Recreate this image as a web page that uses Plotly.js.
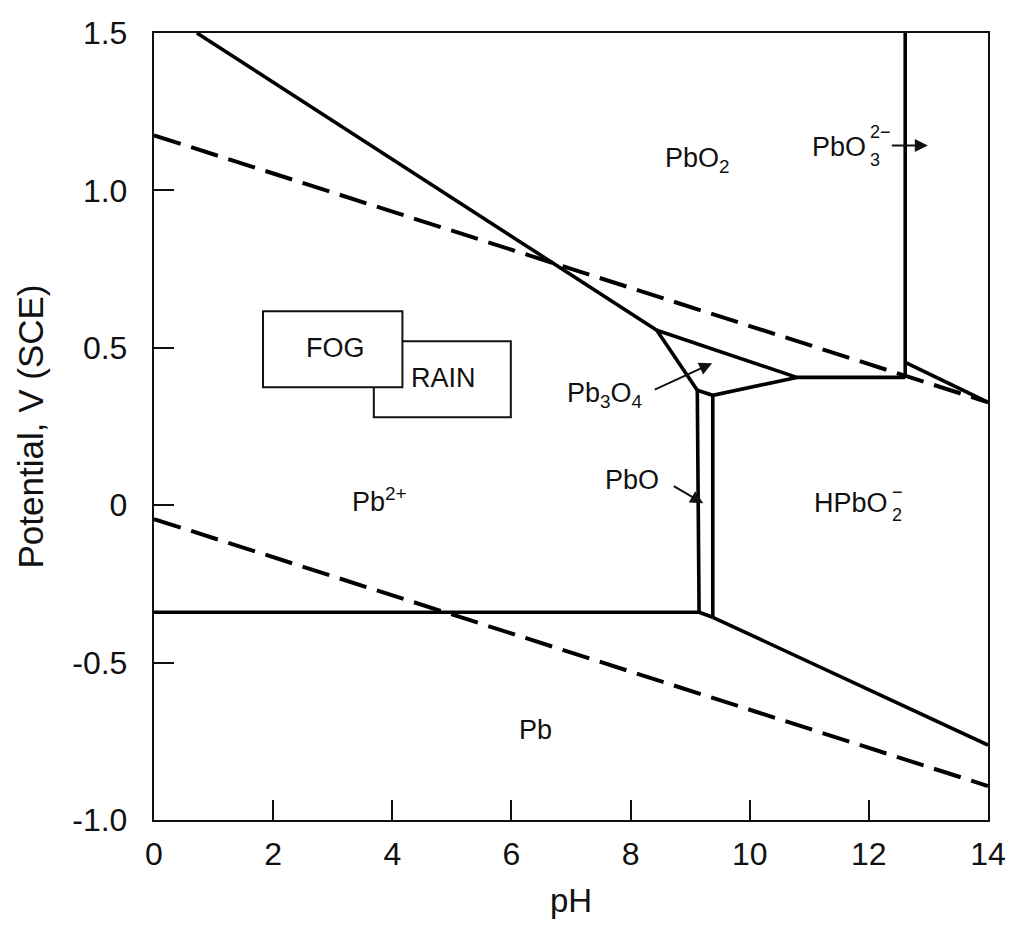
<!DOCTYPE html>
<html>
<head>
<meta charset="utf-8">
<script src="https://cdn.plot.ly/plotly-3.0.1.min.js"></script>
<style>html,body{margin:0;padding:0;background:#fff;}#chart{width:1010px;height:929px;}</style>
</head>
<body>
<div id="chart"></div>
<script>
// ---- Boundary lines (pH, potential V vs SCE) ----
const pb2_pbo2_pH   = [0.72, 8.44];   const pb2_pbo2_E   = [1.5, 0.556];
const pb2_pb3o4_pH  = [8.44, 9.12];   const pb2_pb3o4_E  = [0.556, 0.365];
const pbo2_pb3o4_pH = [8.44, 10.79];  const pbo2_pb3o4_E = [0.556, 0.406];
const pb3o4_low_pH  = [9.12, 9.38, 10.79]; const pb3o4_low_E = [0.365, 0.349, 0.406];
const pbo2_hpbo2_pH = [10.79, 12.61]; const pbo2_hpbo2_E = [0.406, 0.406];
const pbo2_pbo3_pH  = [12.61, 12.61]; const pbo2_pbo3_E  = [0.406, 1.5];
const pbo3_hpbo2_pH = [12.61, 14.0];  const pbo3_hpbo2_E = [0.454, 0.327];
const pbo_left_pH   = [9.12, 9.15];   const pbo_left_E   = [0.365, -0.34];
const pbo_right_pH  = [9.38, 9.38];   const pbo_right_E  = [0.349, -0.356];
const pb_pb2_pH     = [0.0, 9.15];    const pb_pb2_E     = [-0.34, -0.34];
const pbo_bot_pH    = [9.15, 9.38];   const pbo_bot_E    = [-0.34, -0.356];
const pb_hpbo2_pH   = [9.38, 14.0];   const pb_hpbo2_E   = [-0.356, -0.762];
// water stability (dashed)
const o2_pH = [0, 14]; const o2_E = [1.175, 0.327];
const h2_pH = [0, 14]; const h2_E = [-0.044, -0.892];
// FOG and RAIN pH/potential boxes
const fog_pH  = [1.83, 4.17]; const fog_E  = [0.375, 0.616];
const rain_pH = [3.69, 5.99]; const rain_E = [0.279, 0.521];
// axis ticks
const xTicks = [0, 2, 4, 6, 8, 10, 12, 14];
const xTickText = ["0","2","4","6","8","10","12","14"];
const yTicks = [-1.0, -0.5, 0, 0.5, 1.0, 1.5];
const yTickText = ["-1.0","-0.5","0","0.5","1.0","1.5"];
// region labels [text, pH, E, anchor]
const labels = [
  ["PbO<sub>2</sub>", 9.13, 1.095, "center"],
  ["PbO", 11.99, 1.137, "right"],
  ["Pb<sub>3</sub>O<sub>4</sub>", 7.57, 0.349, "center"],
  ["PbO", 8.02, 0.079, "center"],
  ["HPbO", 12.36, 0.006, "right"],
  ["Pb<sup>2+</sup>", 3.79, 0.016, "center"],
  ["Pb", 6.41, -0.714, "center"],
  ["FOG", 3.05, 0.498, "center"],
  ["RAIN", 4.86, 0.403, "center"]
];
// small stacked charge / subscript marks [text, pH, E]
const smallMarks = [
  ["2−", 11.99, 1.185], ["3", 11.99, 1.095],
  ["−", 12.36, 0.042], ["2", 12.36, -0.030]
];
// arrows [tail pH, tail E, head pH, head E]
const arrows = [
  [12.36, 1.143, 12.99, 1.143],
  [8.38, 0.365, 9.37, 0.451],
  [8.70, 0.063, 9.22, 0.006]
];

const FONT = "Liberation Sans, Arial, Helvetica, sans-serif";
const solid = [
  [pb2_pbo2_pH, pb2_pbo2_E], [pb2_pb3o4_pH, pb2_pb3o4_E], [pbo2_pb3o4_pH, pbo2_pb3o4_E],
  [pb3o4_low_pH, pb3o4_low_E], [pbo2_hpbo2_pH, pbo2_hpbo2_E], [pbo2_pbo3_pH, pbo2_pbo3_E],
  [pbo3_hpbo2_pH, pbo3_hpbo2_E], [pbo_left_pH, pbo_left_E], [pbo_right_pH, pbo_right_E],
  [pb_pb2_pH, pb_pb2_E], [pbo_bot_pH, pbo_bot_E], [pb_hpbo2_pH, pb_hpbo2_E]
];
const traces = [];
solid.forEach(s => traces.push({x: s[0], y: s[1], mode: "lines", type: "scatter",
  line: {color: "#000", width: 3.6}, hoverinfo: "skip", showlegend: false}));
[[o2_pH, o2_E], [h2_pH, h2_E]].forEach(s => traces.push({x: s[0], y: s[1], mode: "lines",
  type: "scatter", line: {color: "#000", width: 4, dash: "28px,11px"}, hoverinfo: "skip", showlegend: false}));

const annotations = [];
labels.forEach(l => annotations.push({x: l[1], y: l[2], xref: "x", yref: "y", text: l[0],
  showarrow: false, xanchor: l[3], yanchor: "middle", font: {family: FONT, size: 27, color: "#111"}}));
smallMarks.forEach(m => annotations.push({x: m[1], y: m[2], xref: "x", yref: "y", text: m[0],
  showarrow: false, xanchor: "left", yanchor: "middle", font: {family: FONT, size: 18, color: "#111"}}));
arrows.forEach(a => annotations.push({x: a[2], y: a[3], ax: a[0], ay: a[1], xref: "x", yref: "y",
  axref: "x", ayref: "y", text: "", showarrow: true, arrowhead: 2, arrowsize: 1.3, arrowwidth: 2,
  arrowcolor: "#111", standoff: 0}));

const shapes = [
  {type: "rect", xref: "x", yref: "y", x0: rain_pH[0], x1: rain_pH[1], y0: rain_E[0], y1: rain_E[1],
   line: {color: "#111", width: 2}, fillcolor: "#fff"},
  {type: "rect", xref: "x", yref: "y", x0: fog_pH[0], x1: fog_pH[1], y0: fog_E[0], y1: fog_E[1],
   line: {color: "#111", width: 2}, fillcolor: "#fff"}
];

const layout = {
  width: 1010, height: 929,
  margin: {l: 154, r: 22, t: 33, b: 109},
  paper_bgcolor: "#fff", plot_bgcolor: "#fff",
  font: {family: FONT, color: "#111"},
  showlegend: false,
  xaxis: {range: [0, 14], tickvals: xTicks, ticktext: xTickText, ticks: "inside", ticklen: 20,
    tickwidth: 2, tickcolor: "#111", showline: true, linewidth: 2.2, linecolor: "#111", mirror: true,
    showgrid: false, zeroline: false, tickfont: {family: FONT, size: 32, color: "#111"},
    ticklabelstandoff: 4,
    title: {text: "pH", font: {family: FONT, size: 33, color: "#111"}, standoff: 18}},
  yaxis: {range: [-1, 1.5], tickvals: yTicks, ticktext: yTickText, ticks: "inside", ticklen: 20,
    tickwidth: 2, tickcolor: "#111", showline: true, linewidth: 2.2, linecolor: "#111", mirror: true,
    showgrid: false, zeroline: false, tickfont: {family: FONT, size: 32, color: "#111"},
    ticklabelstandoff: 18,
    title: {text: "Potential, V (SCE)", font: {family: FONT, size: 35, color: "#111"}, standoff: 18}},
  shapes: shapes,
  annotations: annotations
};
Plotly.newPlot("chart", traces, layout, {staticPlot: true, displayModeBar: false});
</script>
</body>
</html>
